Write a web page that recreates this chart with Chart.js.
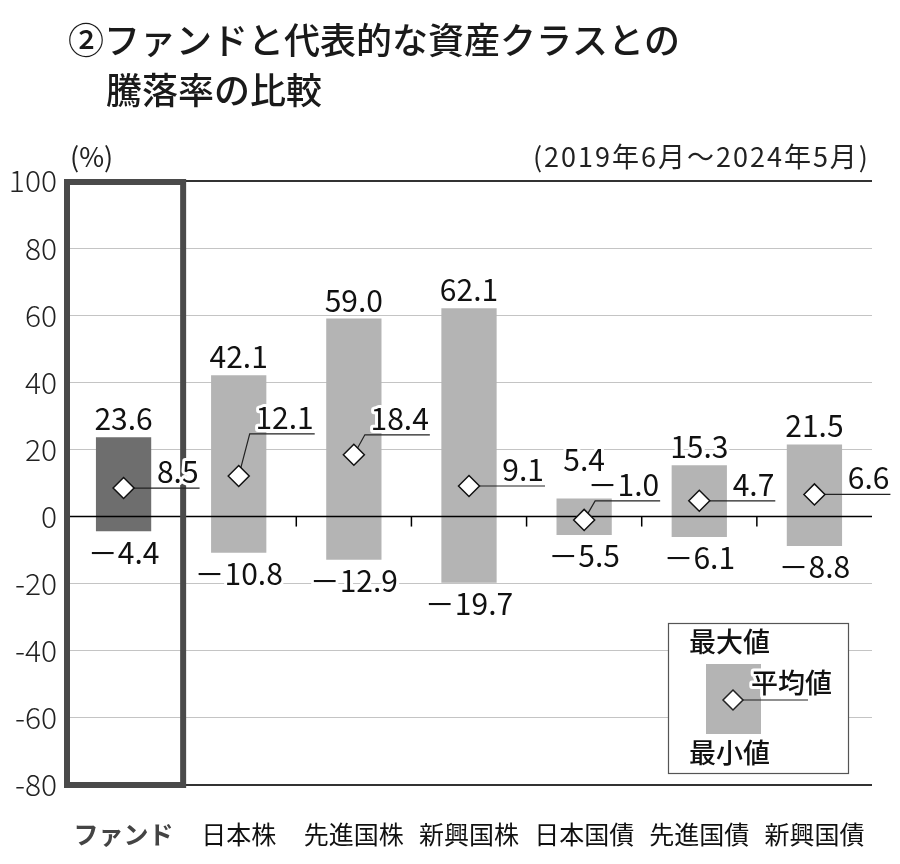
<!DOCTYPE html>
<html>
<head>
<meta charset="utf-8">
<script src="https://cdn.jsdelivr.net/npm/chart.js@4/dist/chart.umd.min.js"></script>
<style>
  html, body { margin: 0; padding: 0; background: #fff; }
</style>
</head>
<body>
<canvas id="myChart" width="900" height="864"></canvas>
<script>
// データ (2019年6月～2024年5月)
const categories = ['ファンド', '日本株', '先進国株', '新興国株', '日本国債', '先進国債', '新興国債'];
const maxValues = [23.6, 42.1, 59.0, 62.1, 5.4, 15.3, 21.5];
const minValues = [-4.4, -10.8, -12.9, -19.7, -5.5, -6.1, -8.8];
const avgValues = [8.5, 12.1, 18.4, 9.1, -1.0, 4.7, 6.6];

// ラベル位置の調整(px)
const avgLift = [0, 42, 20, 0, 19, 0, 0];
const maxLift = [0, 0, 0, 0, 20, 0, 0];

const FONT = '"Noto Sans CJK JP", "Noto Sans", sans-serif';

function fmt(v) {
  return (v < 0 ? '－' : '') + Math.abs(v).toFixed(1);
}

function haloText(ctx, text, x, y) {
  ctx.save();
  ctx.lineWidth = 6;
  ctx.lineJoin = 'round';
  ctx.strokeStyle = '#fff';
  ctx.strokeText(text, x, y);
  ctx.fillStyle = '#111';
  ctx.fillText(text, x, y);
  ctx.restore();
}

const rangeData = categories.map(function (c, i) { return [minValues[i], maxValues[i]]; });

const decorPlugin = {
  id: 'decor',
  beforeDatasetDraw: function (chart, args) {
    if (args.meta.type !== 'line') return;
    const ctx = chart.ctx;
    const xs = chart.scales.x;
    const ys = chart.scales.y;
    const area = chart.chartArea;
    const y0 = ys.getPixelForValue(0);
    ctx.save();

    // ゼロ線
    ctx.strokeStyle = '#000';
    ctx.lineWidth = 1.5;
    ctx.beginPath();
    ctx.moveTo(area.left, y0);
    ctx.lineTo(area.right, y0);
    ctx.stroke();

    // 区切りの目盛り
    const step = (area.right - area.left) / categories.length;
    for (let i = 2; i < categories.length; i++) {
      const bx = area.left + step * i;
      ctx.beginPath();
      ctx.moveTo(bx, y0);
      ctx.lineTo(bx, y0 + 10);
      ctx.stroke();
    }

    // ファンドの枠
    ctx.strokeStyle = '#4a4a4a';
    ctx.lineWidth = 6;
    ctx.strokeRect(area.left + 1, area.top + 1, step + 1, area.bottom - area.top - 1);

    // 平均値の引き出し線
    ctx.strokeStyle = '#222';
    ctx.lineWidth = 1.2;
    for (let i = 0; i < categories.length; i++) {
      const cx = xs.getPixelForValue(i);
      const cy = ys.getPixelForValue(avgValues[i]);
      ctx.beginPath();
      ctx.moveTo(cx, cy);
      if (avgLift[i] > 0) {
        ctx.lineTo(cx + 11, cy - avgLift[i]);
      }
      ctx.lineTo(cx + 76, cy - avgLift[i]);
      ctx.stroke();
    }
    ctx.restore();
  },
  afterDraw: function (chart) {
    const ctx = chart.ctx;
    const xs = chart.scales.x;
    const ys = chart.scales.y;
    ctx.save();

    // 値ラベル
    ctx.font = '30px ' + FONT;
    for (let i = 0; i < categories.length; i++) {
      const cx = xs.getPixelForValue(i);
      ctx.textAlign = 'center';
      ctx.textBaseline = 'alphabetic';
      haloText(ctx, fmt(maxValues[i]), cx, ys.getPixelForValue(maxValues[i]) - 7 - maxLift[i]);
      ctx.textBaseline = 'top';
      haloText(ctx, fmt(minValues[i]), cx, ys.getPixelForValue(minValues[i]) + 6);
      const ay = ys.getPixelForValue(avgValues[i]) - avgLift[i];
      ctx.textAlign = 'right';
      ctx.textBaseline = 'alphabetic';
      haloText(ctx, fmt(avgValues[i]), cx + 75, ay - 5);
    }

    // タイトル
    ctx.fillStyle = '#1a1a1a';
    ctx.textAlign = 'left';
    ctx.textBaseline = 'middle';
    ctx.font = '500 36px ' + FONT;
    ctx.fillText('②ファンドと代表的な資産クラスとの', 68, 40);
    ctx.fillText('騰落率の比較', 106, 90);

    ctx.font = '27px ' + FONT;
    ctx.fillStyle = '#222';
    ctx.fillText('(%)', 70, 157);
    ctx.textAlign = 'right';
    ctx.letterSpacing = '2px';
    ctx.fillText('(2019年6月～2024年5月)', 870, 157);
    ctx.letterSpacing = '0px';

    // 凡例
    ctx.fillStyle = '#fff';
    ctx.fillRect(668, 623, 180, 150);
    ctx.strokeStyle = '#555';
    ctx.lineWidth = 1.2;
    ctx.strokeRect(668.5, 623.5, 180, 150);
    ctx.fillStyle = '#b4b4b4';
    ctx.fillRect(706, 664, 55, 70);
    ctx.font = '500 27px ' + FONT;
    ctx.textAlign = 'left';
    ctx.textBaseline = 'middle';
    ctx.fillStyle = '#111';
    ctx.fillText('最大値', 689, 642);
    haloText(ctx, '平均値', 751, 683);
    ctx.fillStyle = '#111';
    ctx.fillText('最小値', 689, 753);
    ctx.strokeStyle = '#222';
    ctx.lineWidth = 1.2;
    ctx.beginPath();
    ctx.moveTo(733, 700);
    ctx.lineTo(808, 700);
    ctx.stroke();
    ctx.beginPath();
    ctx.moveTo(733, 690);
    ctx.lineTo(743, 700);
    ctx.lineTo(733, 710);
    ctx.lineTo(723, 700);
    ctx.closePath();
    ctx.fillStyle = '#fff';
    ctx.fill();
    ctx.lineWidth = 1.5;
    ctx.stroke();
    ctx.restore();
  }
};

const ctx = document.getElementById('myChart');
new Chart(ctx, {
  data: {
    labels: categories,
    datasets: [
      {
        type: 'bar',
        label: '最大値・最小値',
        data: rangeData,
        backgroundColor: categories.map(function (c, i) { return i === 0 ? '#6e6e6e' : '#b4b4b4'; }),
        borderWidth: 0,
        categoryPercentage: 1,
        barPercentage: 0.48,
        order: 2
      },
      {
        type: 'line',
        label: '平均値',
        data: avgValues,
        showLine: false,
        pointStyle: 'rectRot',
        pointRadius: 10.5,
        pointBackgroundColor: '#fff',
        pointBorderColor: '#111',
        pointBorderWidth: 1.5,
        order: 1
      }
    ]
  },
  options: {
    responsive: false,
    animation: false,
    layout: { padding: { top: 181, right: 28, bottom: 0, left: 0 } },
    plugins: {
      legend: { display: false },
      tooltip: { enabled: false }
    },
    scales: {
      x: {
        grid: { display: false },
        border: { display: false },
        ticks: {
          padding: 26,
          font: function (c) {
            return { family: FONT, size: 25, weight: c.index === 0 ? 'bold' : 'normal' };
          },
          color: function (c) { return c.index === 0 ? '#444' : '#111'; }
        },
        afterFit: function (scale) { scale.height = 79; }
      },
      y: {
        min: -80,
        max: 100,
        border: { display: false },
        ticks: {
          stepSize: 20,
          padding: 9,
          font: { family: FONT, size: 30, weight: 300 },
          color: '#222'
        },
        grid: {
          drawTicks: false,
          color: function (c) {
            const v = c.tick.value;
            if (v === 0) return 'rgba(0,0,0,0)';
            if (v === 100 || v === -80) return '#333';
            return '#c4c4c4';
          },
          lineWidth: function (c) {
            const v = c.tick.value;
            return (v === 100 || v === -80) ? 2 : 1;
          }
        },
        afterFit: function (scale) { scale.width = 66; }
      }
    }
  },
  plugins: [decorPlugin]
});
</script>
</body>
</html>
